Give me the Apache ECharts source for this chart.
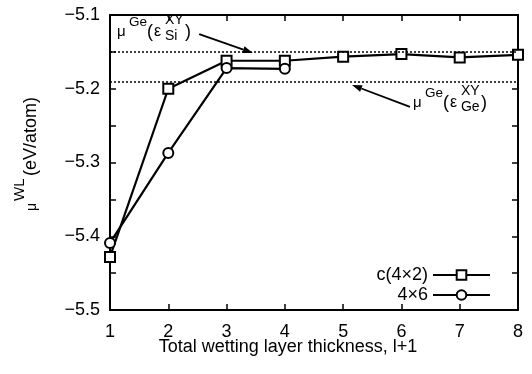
<!DOCTYPE html>
<html><head><meta charset="utf-8">
<script src="https://cdn.jsdelivr.net/npm/echarts@6/dist/echarts.min.js"></script>
<style>html,body{margin:0;padding:0;background:#fff}#c{width:532px;height:374px}</style>
</head><body><div id="c"></div>
<script>
// ---- data ----
const xC42 = [1, 2, 3, 4, 5, 6, 7, 8];
const yC42 = [-5.428, -5.200, -5.162, -5.162, -5.1565, -5.153, -5.1575, -5.154];
const x46 = [1, 2, 3, 4];
const y46 = [-5.409, -5.287, -5.172, -5.173];
const seriesNames = ['c(4×2)', '4×6'];
const refLines = [-5.154, -5.191];
const xTickLabels = ['1', '2', '3', '4', '5', '6', '7', '8'];
const yTickLabels = ['−5.5', '−5.4', '−5.3', '−5.2', '−5.1'];
const xTitle = 'Total wetting layer thickness, l+1';
// annotations (data coords): label anchor, arrow tail, arrow tip
const ann1 = { label: [1.12, -5.1298], tail: [2.53, -5.1258], tip: [3.45, -5.1515], sub: 'Si' };
const ann2 = { label: [6.198, -5.2261], tail: [6.147, -5.2247], tip: [5.152, -5.1949], sub: 'Ge' };

const FONT = '"Liberation Sans", Arial, Helvetica, sans-serif';
const chart = echarts.init(document.getElementById('c'), null, { renderer: 'canvas' });

function yLabel(v) {
  const k = Math.round(v * 10);
  if (Math.abs(v * 10 - k) > 1e-6) return '';
  const idx = k + 55;
  return yTickLabels[idx] !== undefined ? yTickLabels[idx] : '';
}

const axisCommon = {
  axisLine: { show: true, lineStyle: { color: '#000', width: 2 } },
  axisTick: { show: true, inside: true, length: 6, lineStyle: { color: '#000', width: 1.5 } },
  splitLine: { show: false }
};

chart.setOption({
  animation: false,
  backgroundColor: '#fff',
  grid: { left: 110, right: 14, top: 15, bottom: 64, containLabel: false },
  xAxis: [
    Object.assign({ type: 'value', min: 1, max: 8, interval: 1, position: 'bottom',
      axisLabel: { show: true, margin: 13, color: '#000', fontSize: 18, fontFamily: FONT,
        formatter: v => xTickLabels[Math.round(v) - 1] || '' } }, axisCommon),
    Object.assign({ type: 'value', min: 1, max: 8, interval: 1, position: 'top',
      axisLabel: { show: false } }, axisCommon)
  ],
  yAxis: [
    Object.assign({ type: 'value', min: -5.5, max: -5.1, interval: 0.05, position: 'left',
      axisLabel: { show: true, margin: 10, color: '#000', fontSize: 18, fontFamily: FONT,
        formatter: yLabel } }, axisCommon),
    Object.assign({ type: 'value', min: -5.5, max: -5.1, interval: 0.05, position: 'right',
      axisLabel: { show: false } }, axisCommon)
  ],
  legend: {
    data: seriesNames,
    orient: 'vertical',
    align: 'right',
    right: 36,
    top: 261,
    itemWidth: 57,
    itemHeight: 12,
    itemGap: 2,
    textStyle: { color: '#000', fontSize: 18, fontFamily: FONT }
  },
  series: [
    {
      name: seriesNames[0], type: 'line',
      data: xC42.map((x, i) => [x, yC42[i]]),
      symbol: 'emptyRect', symbolSize: 10,
      lineStyle: { color: '#000', width: 2.2 },
      itemStyle: { color: '#000', borderWidth: 1.6 },
      z: 3,
      markLine: {
        silent: true, symbol: ['none', 'none'],
        label: { show: false },
        lineStyle: { color: '#000', width: 1.5, type: [2, 2] },
        data: refLines.map(v => ({ yAxis: v }))
      }
    },
    {
      name: seriesNames[1], type: 'line',
      data: x46.map((x, i) => [x, y46[i]]),
      symbol: 'emptyCircle', symbolSize: 10,
      lineStyle: { color: '#000', width: 2.2 },
      itemStyle: { color: '#000', borderWidth: 1.6 },
      z: 3
    }
  ]
});

function txt(x, y, s, size, extra) {
  return Object.assign({ type: 'text', x: x, y: y, silent: true, z: 100,
    style: { text: s, fill: '#000', font: size + 'px ' + FONT, textAlign: 'left', textVerticalAlign: 'middle', verticalAlign: 'middle' } }, extra || {});
}
function base(b, size) { return b - 0.35 * size; }

function annotation(a) {
  const p = chart.convertToPixel({ gridIndex: 0 }, a.label);
  const x0 = p[0], b0 = p[1];
  const els = [
    txt(x0, base(b0, 15), 'μ', 15),
    txt(x0 + 12, base(b0 - 10, 13.5), 'Ge', 13.5),
    txt(x0 + 30, base(b0 + 1, 18), '(', 18),
    txt(x0 + 37, base(b0, 16), 'ε', 16),
    txt(x0 + 48, base(b0 - 12, 14), 'XY', 14),
    txt(x0 + 48, base(b0 + 4, 14), a.sub, 14),
    txt(x0 + 68, base(b0 + 1, 18), ')', 18)
  ];
  const t = chart.convertToPixel({ gridIndex: 0 }, a.tail);
  const h = chart.convertToPixel({ gridIndex: 0 }, a.tip);
  const dx = h[0] - t[0], dy = h[1] - t[1];
  const L = Math.sqrt(dx * dx + dy * dy), ux = dx / L, uy = dy / L;
  const hl = 10, hw = 3.5;
  const bx = h[0] - ux * hl, by = h[1] - uy * hl;
  els.push({ type: 'line', silent: true, z: 100,
    shape: { x1: t[0], y1: t[1], x2: bx, y2: by },
    style: { stroke: '#000', lineWidth: 1.8 } });
  els.push({ type: 'polygon', silent: true, z: 100,
    shape: { points: [[h[0], h[1]], [bx - uy * hw, by + ux * hw], [bx + uy * hw, by - ux * hw]] },
    style: { fill: '#000' } });
  return els;
}

const graphics = [].concat(annotation(ann1), annotation(ann2));

// y-axis title (rotated)
graphics.push({
  type: 'group', x: 37, y: 213, rotation: Math.PI / 2, silent: true,
  children: [
    txt(2, base(0, 14), 'μ', 14),
    txt(12, base(-12, 15), 'WL', 15),
    txt(37, base(0, 18), '(eV/atom)', 18)
  ]
});
// x-axis title
const xt = txt(288, base(353, 18), xTitle, 18, {});
xt.style.textAlign = 'center';
graphics.push(xt);

chart.setOption({ graphic: graphics });
</script></body></html>
